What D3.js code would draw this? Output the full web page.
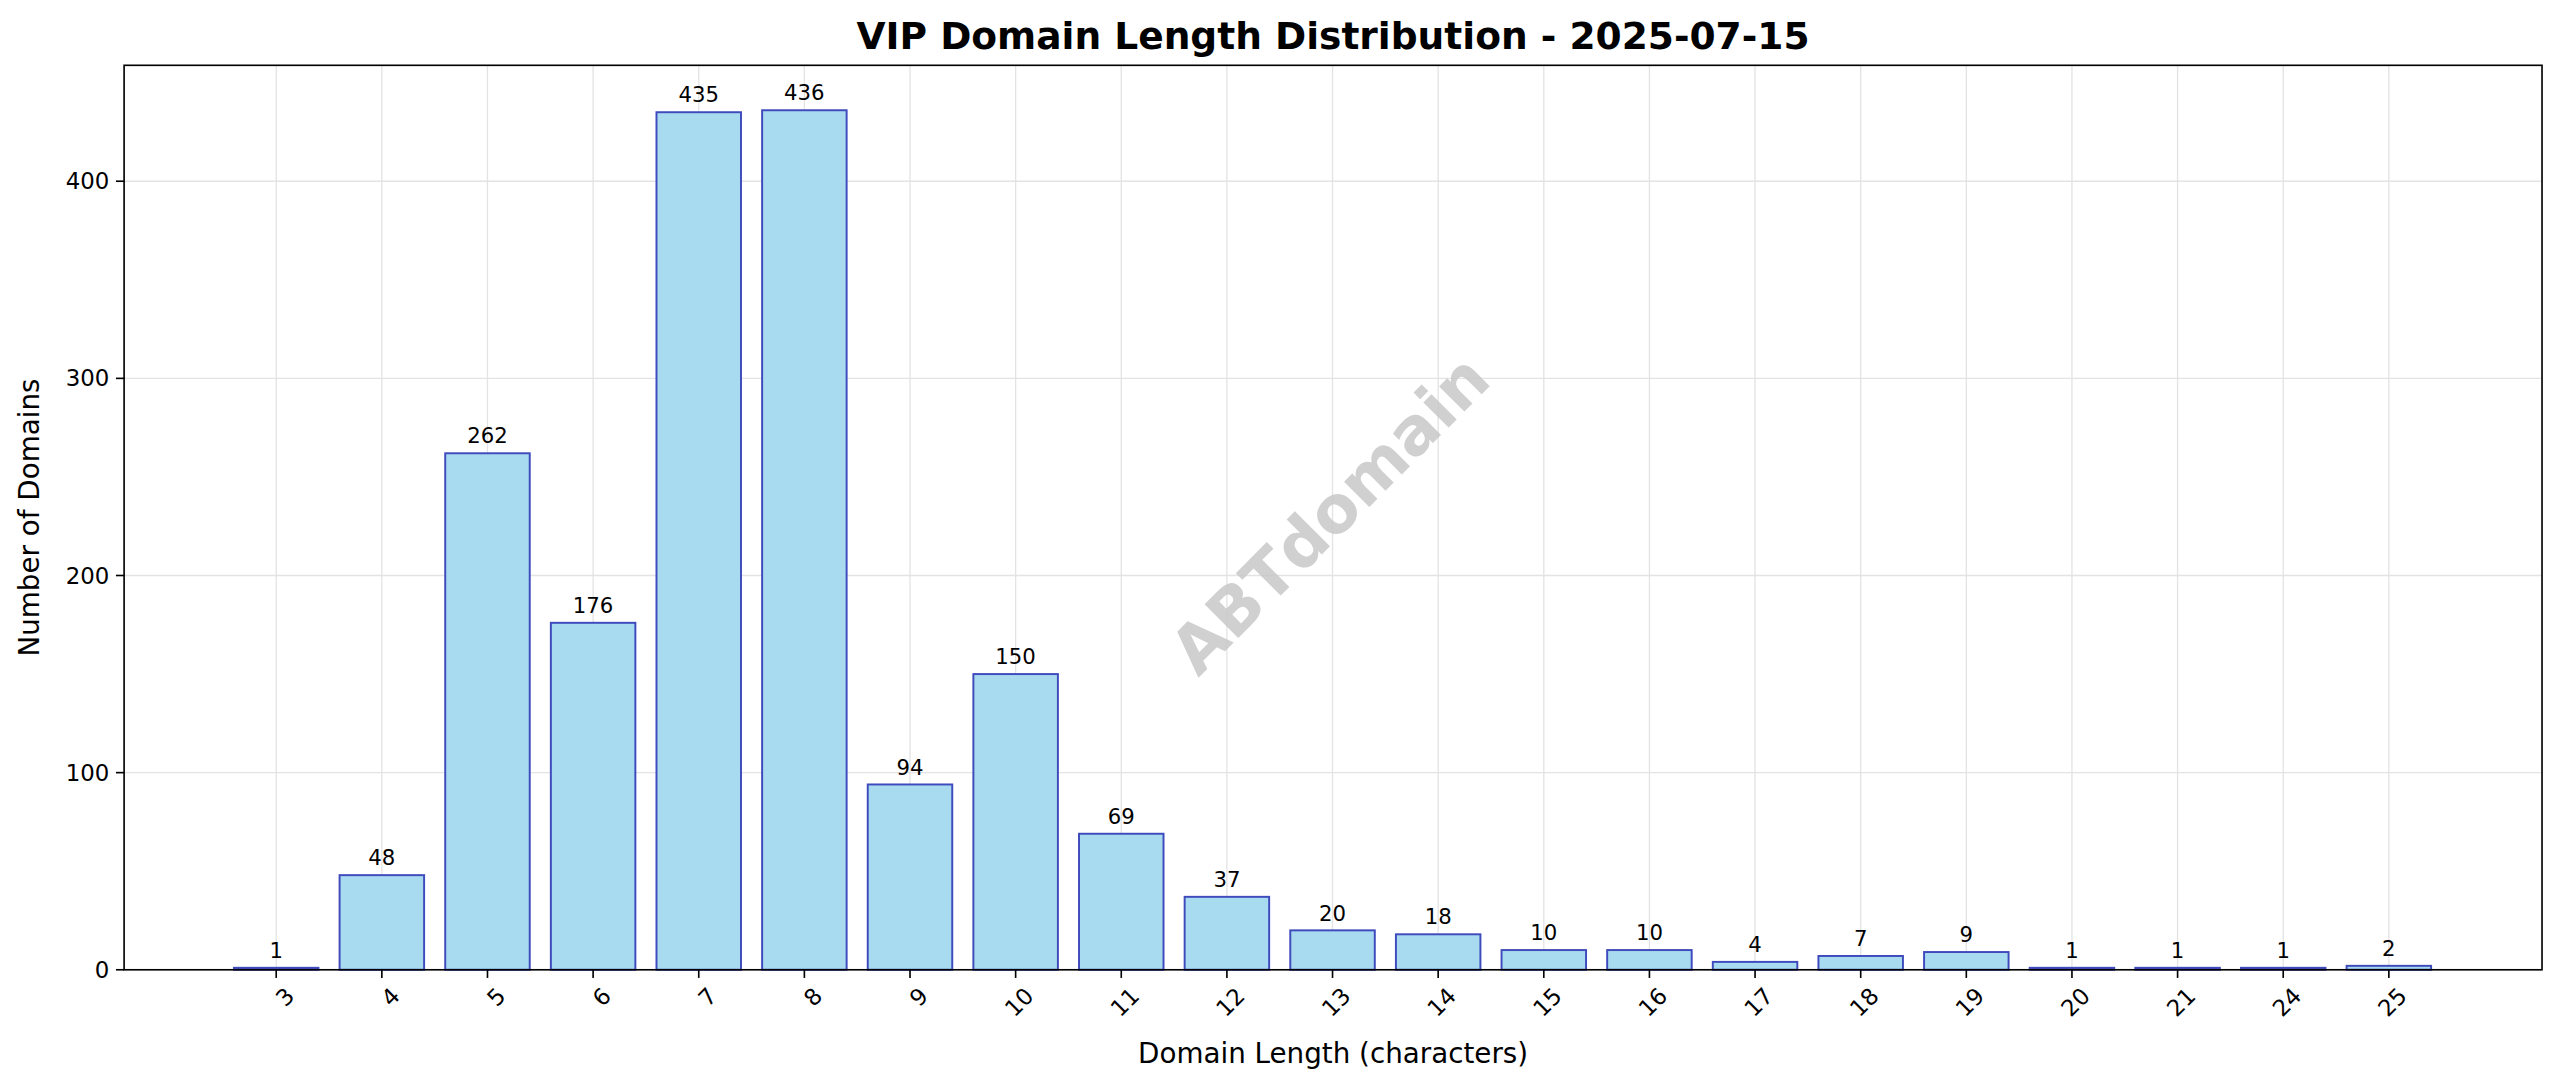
<!DOCTYPE html>
<html><head><meta charset="utf-8">
<script src="https://cdn.jsdelivr.net/npm/d3@7"></script>
<style>body{margin:0;background:#fff;font-family:"DejaVu Sans",sans-serif;}svg{display:block;}</style>
</head><body><svg id="chart" width="2560" height="1087" viewBox="0 0 1568 665.8"></svg>
<script>
const lengths = ["3","4","5","6","7","8","9","10","11","12","13","14","15","16","17","18","19","20","21","24","25"];
const counts = [1,48,262,176,435,436,94,150,69,37,20,18,10,10,4,7,9,1,1,1,2];
const yTicks = [0,100,200,300,400];

const svg = d3.select("#chart");
const m = {left: 76, right: 1557, top: 40, bottom: 594};

const x = d3.scaleLinear().domain([-1.44, lengths.length - 1 + 1.45]).range([m.left, m.right]);
const y = d3.scaleLinear().domain([0, 458.8]).range([m.bottom, m.top]);
const bw = (x(1) - x(0)) * 0.8;

// grid
svg.append("g").selectAll("line").data(yTicks).join("line")
  .attr("x1", m.left).attr("x2", m.right).attr("y1", d => y(d)).attr("y2", d => y(d))
  .attr("stroke", "#e3e3e3").attr("stroke-width", 0.8);
svg.append("g").selectAll("line").data(lengths).join("line")
  .attr("x1", (d, i) => x(i)).attr("x2", (d, i) => x(i)).attr("y1", m.top).attr("y2", m.bottom)
  .attr("stroke", "#e3e3e3").attr("stroke-width", 0.8);

// watermark
svg.append("text").attr("transform", `translate(${(m.left + m.right) / 2},${(m.top + m.bottom) / 2}) rotate(-45)`)
  .attr("text-anchor", "middle").attr("dominant-baseline", "middle")
  .attr("font-size", 40).attr("font-weight", "bold").attr("fill", "#c8c8c8").attr("opacity", 0.85)
  .text("ABTdomain");

// bars
svg.append("g").selectAll("rect").data(counts).join("rect")
  .attr("x", (d, i) => x(i) - bw / 2).attr("width", bw)
  .attr("y", d => y(d)).attr("height", d => y(0) - y(d))
  .attr("fill", "#a8dbef").attr("stroke", "#3f4bbd").attr("stroke-width", 1.2);

svg.append("g").selectAll("text").data(counts).join("text")
  .attr("x", (d, i) => x(i)).attr("y", d => y(d) - 6)
  .attr("text-anchor", "middle").attr("font-size", 13).text(d => d);

// frame
svg.append("rect").attr("x", m.left).attr("y", m.top).attr("width", m.right - m.left).attr("height", m.bottom - m.top)
  .attr("fill", "none").attr("stroke", "#000").attr("stroke-width", 1);

// y axis
const ya = svg.append("g");
ya.selectAll("line").data(yTicks).join("line")
  .attr("x1", m.left - 5).attr("x2", m.left).attr("y1", d => y(d)).attr("y2", d => y(d)).attr("stroke", "#000");
ya.selectAll("text").data(yTicks).join("text")
  .attr("x", m.left - 9).attr("y", d => y(d)).attr("dy", "0.35em").attr("text-anchor", "end")
  .attr("font-size", 14).text(d => d);

// x axis
const xa = svg.append("g");
xa.selectAll("line").data(lengths).join("line")
  .attr("x1", (d, i) => x(i)).attr("x2", (d, i) => x(i)).attr("y1", m.bottom).attr("y2", m.bottom + 5).attr("stroke", "#000");
xa.selectAll("text").data(lengths).join("text")
  .attr("transform", (d, i) => `translate(${x(i) + 5},${m.bottom + 10}) rotate(-45)`)
  .attr("text-anchor", "end").attr("dy", "0.7em").attr("font-size", 14).text(d => d);

svg.append("text").attr("x", (m.left + m.right) / 2).attr("y", 651).attr("text-anchor", "middle")
  .attr("font-size", 17).text("Domain Length (characters)");
svg.append("text").attr("transform", `translate(24,${(m.top + m.bottom) / 2}) rotate(-90)`)
  .attr("text-anchor", "middle").attr("font-size", 17).text("Number of Domains");
svg.append("text").attr("x", (m.left + m.right) / 2).attr("y", 30).attr("text-anchor", "middle")
  .attr("font-size", 23).attr("font-weight", "bold").text("VIP Domain Length Distribution - 2025-07-15");
</script></body></html>
